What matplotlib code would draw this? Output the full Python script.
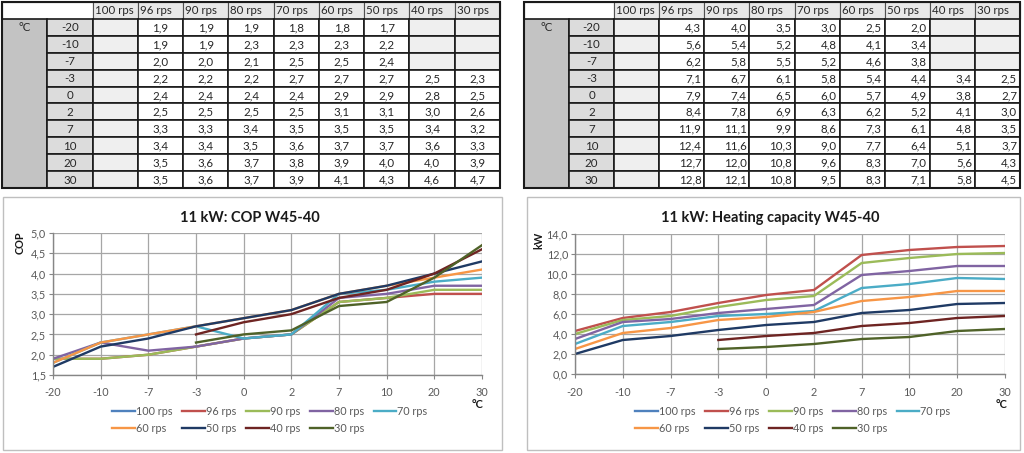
import numpy as np
import matplotlib
matplotlib.use("Agg")
import matplotlib.pyplot as plt
from matplotlib.patches import Rectangle
from matplotlib.ticker import FuncFormatter, MultipleLocator

plt.rcParams['font.family'] = ['Lato', 'DejaVu Sans']

# ---------------- data ----------------
temps = ["-20", "-10", "-7", "-3", "0", "2", "7", "10", "20", "30"]
speeds = ["100 rps", "96 rps", "90 rps", "80 rps", "70 rps", "60 rps", "50 rps", "40 rps", "30 rps"]
nan = np.nan

cop_100 = [nan, nan, nan, nan, nan, nan, nan, nan, nan, nan]
cop_96 = [1.9, 1.9, 2.0, 2.2, 2.4, 2.5, 3.3, 3.4, 3.5, 3.5]
cop_90 = [1.9, 1.9, 2.0, 2.2, 2.4, 2.5, 3.3, 3.4, 3.6, 3.6]
cop_80 = [1.9, 2.3, 2.1, 2.2, 2.4, 2.5, 3.4, 3.5, 3.7, 3.7]
cop_70 = [1.8, 2.3, 2.5, 2.7, 2.4, 2.5, 3.5, 3.6, 3.8, 3.9]
cop_60 = [1.8, 2.3, 2.5, 2.7, 2.9, 3.1, 3.5, 3.7, 3.9, 4.1]
cop_50 = [1.7, 2.2, 2.4, 2.7, 2.9, 3.1, 3.5, 3.7, 4.0, 4.3]
cop_40 = [nan, nan, nan, 2.5, 2.8, 3.0, 3.4, 3.6, 4.0, 4.6]
cop_30 = [nan, nan, nan, 2.3, 2.5, 2.6, 3.2, 3.3, 3.9, 4.7]

cap_100 = [nan, nan, nan, nan, nan, nan, nan, nan, nan, nan]
cap_96 = [4.3, 5.6, 6.2, 7.1, 7.9, 8.4, 11.9, 12.4, 12.7, 12.8]
cap_90 = [4.0, 5.4, 5.8, 6.7, 7.4, 7.8, 11.1, 11.6, 12.0, 12.1]
cap_80 = [3.5, 5.2, 5.5, 6.1, 6.5, 6.9, 9.9, 10.3, 10.8, 10.8]
cap_70 = [3.0, 4.8, 5.2, 5.8, 6.0, 6.3, 8.6, 9.0, 9.6, 9.5]
cap_60 = [2.5, 4.1, 4.6, 5.4, 5.7, 6.2, 7.3, 7.7, 8.3, 8.3]
cap_50 = [2.0, 3.4, 3.8, 4.4, 4.9, 5.2, 6.1, 6.4, 7.0, 7.1]
cap_40 = [nan, nan, nan, 3.4, 3.8, 4.1, 4.8, 5.1, 5.6, 5.8]
cap_30 = [nan, nan, nan, 2.5, 2.7, 3.0, 3.5, 3.7, 4.3, 4.5]

cop = [cop_100, cop_96, cop_90, cop_80, cop_70, cop_60, cop_50, cop_40, cop_30]
cap = [cap_100, cap_96, cap_90, cap_80, cap_70, cap_60, cap_50, cap_40, cap_30]

colors = ["#4F81BD", "#C0504D", "#9BBB59", "#8064A2", "#4BACC6",
          "#F79646", "#1F3A64", "#6E2422", "#4F6228"]

W, H = 1024, 453
fig = plt.figure(figsize=(W / 100, H / 100), dpi=100)

def fx(x):
    return x / W

def fy(y):
    return 1 - y / H

def comma(v):
    return f"{v:.1f}".replace(".", ",")

# background axes in pixel coordinates
bg = fig.add_axes([0, 0, 1, 1], zorder=0)
bg.set_xlim(0, W)
bg.set_ylim(H, 0)
bg.axis("off")

TXT = "#262626"
FS = 8.3

def draw_table(x0, x1, y0, y1, data, align):
    ncol, nrow = 11, 11
    cw = (x1 - x0) / ncol
    rh = (y1 - y0) / nrow
    bg.add_patch(Rectangle((x0, y0), 2 * cw, rh, fc="white", ec="#303030", lw=0.8))
    for j, s in enumerate(speeds):
        x = x0 + (j + 2) * cw
        bg.add_patch(Rectangle((x, y0), cw, rh, fc="#e8e8e8", ec="#505050", lw=0.8))
        bg.text(x + 2, y0 + rh / 2 + 0.5, s, ha="left", va="center", fontsize=FS, color=TXT)
    bg.add_patch(Rectangle((x0, y0 + rh), cw, 10 * rh, fc="#c3c3c3", ec="#1a1a1a", lw=1.2))
    bg.text(x0 + cw / 2, y0 + rh * 1.5, "°C", ha="center", va="center", fontsize=FS, color=TXT)
    for i, t in enumerate(temps):
        y = y0 + (i + 1) * rh
        bg.add_patch(Rectangle((x0 + cw, y), cw, rh, fc="#dcdcdc", ec="#1a1a1a", lw=1.2))
        bg.text(x0 + 1.5 * cw, y + rh / 2 + 0.5, t, ha="center", va="center", fontsize=FS, color=TXT)
        for j in range(9):
            x = x0 + (j + 2) * cw
            v = data[j][i]
            if np.isnan(v):
                bg.add_patch(Rectangle((x, y), cw, rh, fc="#efefef", ec="#1a1a1a", lw=1.2))
            else:
                bg.add_patch(Rectangle((x, y), cw, rh, fc="white", ec="#1a1a1a", lw=1.2))
                if align == "center":
                    bg.text(x + cw / 2, y + rh / 2 + 0.5, comma(v), ha="center", va="center",
                            fontsize=FS, color=TXT)
                else:
                    bg.text(x + cw - 3, y + rh / 2 + 0.5, comma(v), ha="right", va="center",
                            fontsize=FS, color=TXT)
    bg.add_patch(Rectangle((x0, y0), x1 - x0, y1 - y0, fc="none", ec="#1a1a1a", lw=1.5))

draw_table(2, 500, 2, 188, cop, "center")
draw_table(524, 1020, 2, 188, cap, "right")

# chart frames
bg.add_patch(Rectangle((3, 197), 499, 253, fc="white", ec="#bfbfbf", lw=1.0, zorder=0.5))
bg.add_patch(Rectangle((527, 197), 493, 253, fc="white", ec="#bfbfbf", lw=1.0, zorder=0.5))

def draw_chart(left, right, top, bottom, series, ymin, ymax, ystep, title, ylabel,
               title_x, ylabel_x, ylabel_y, xlabel_x, leg_x):
    ax = fig.add_axes([fx(left), fy(bottom), fx(right - left), (bottom - top) / H], zorder=2)
    ax.set_facecolor("none")
    xs = np.arange(len(temps))
    lines = []
    for s, c, lab in zip(series, colors, speeds):
        ln, = ax.plot(xs, s, color=c, lw=1.7, label=lab, solid_joinstyle="round")
        lines.append(ln)
    ax.set_xlim(0, len(temps) - 1)
    ax.set_ylim(ymin, ymax)
    ax.set_xticks(xs)
    ax.set_xticklabels(temps)
    ax.yaxis.set_major_locator(MultipleLocator(ystep))
    ax.yaxis.set_major_formatter(FuncFormatter(lambda v, p: comma(v)))
    ax.grid(True, color="#a6a6a6", lw=0.9)
    ax.set_axisbelow(True)
    for sp in ("top", "right"):
        ax.spines[sp].set_visible(False)
    for sp in ("left", "bottom"):
        ax.spines[sp].set_color("#868686")
        ax.spines[sp].set_linewidth(1.0)
    ax.tick_params(axis="both", colors="#868686", labelcolor="#595959", labelsize=7.8,
                   length=3, direction="out")
    ax.tick_params(axis="x", pad=6)
    ax.tick_params(axis="y", pad=2)
    fig.text(fx(title_x), fy(218), title, ha="center", va="center", fontsize=10.5,
             fontweight="bold", color="#1a1a1a")
    fig.text(fx(ylabel_x), fy(ylabel_y), ylabel, ha="center", va="center",
             rotation=90, fontsize=7.8, fontweight="bold", color="#1a1a1a")
    fig.text(fx(xlabel_x), fy(404), "°C", ha="center", va="center", fontsize=8,
             fontweight="bold", color="#1a1a1a")
    order = [0, 5, 1, 6, 2, 7, 3, 8, 4]
    ax.legend([lines[k] for k in order], [speeds[k] for k in order],
              loc="upper left", bbox_to_anchor=(fx(leg_x), fy(406)),
              bbox_transform=fig.transFigure, ncol=5, frameon=False, fontsize=7.8,
              handlelength=2.1, handletextpad=0.1, columnspacing=0.9, borderpad=0,
              borderaxespad=0, labelspacing=0.55, labelcolor="#595959")
    return ax

draw_chart(53, 482, 233, 375, cop, 1.5, 5.0, 0.5, "11 kW: COP W45-40", "COP",
           250, 20, 243, 478, 112)
draw_chart(575, 1005, 234, 374, cap, 0.0, 14.0, 2.0, "11 kW: Heating capacity W45-40", "kW",
           770, 539, 240, 1002, 635)

fig.savefig("out.png", dpi=100)
